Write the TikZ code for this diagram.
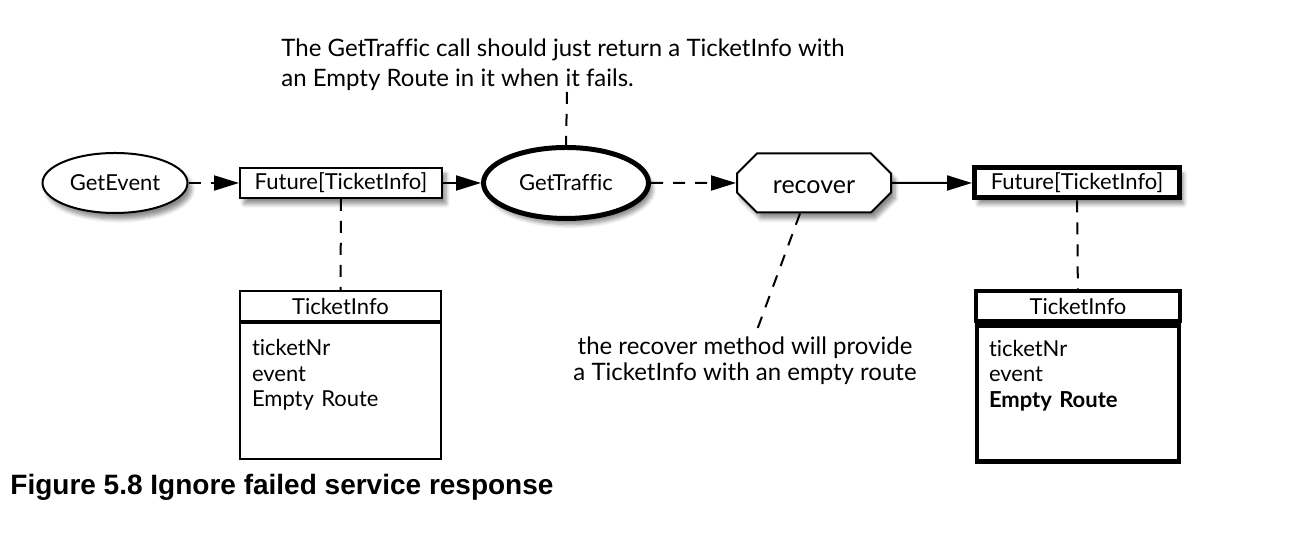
\documentclass[tikz,border=0pt]{standalone}
\usepackage{fontspec}
\setmainfont{Lato}[Ligatures=NoCommon]
\newfontfamily\capfont{Liberation Sans}
\usetikzlibrary{shapes.geometric,shapes.misc,arrows.meta,shadows.blur}

\begin{document}
\begin{tikzpicture}[x=0.5pt,y=0.5pt,
    font=\fontsize{11}{12.75}\selectfont,
    shade/.style={blur shadow={shadow blur steps=6,shadow xshift=2pt,shadow yshift=-3pt,shadow opacity=45}},
    proc/.style={ellipse,draw,fill=white,line width=1pt,inner sep=0pt,shade},
    fut/.style={rectangle,draw,fill=white,line width=1pt,inner sep=0pt,minimum height=15pt,shade},
    head/.style={rectangle,draw,line width=1pt,inner sep=0pt,minimum height=15pt},
    body/.style={rectangle,draw,line width=1pt,inner xsep=6pt,inner ysep=0pt,minimum height=68pt,align=left,anchor=north},
    flow/.style={line width=1pt,-{Triangle[length=12.5pt,width=7.5pt]}},
    link/.style={line width=1pt,dash pattern=on 6pt off 5pt}]
    \useasboundingbox (0,0) rectangle (1301,544);
    % main chain
    \node[proc,minimum width=72.5pt,minimum height=30pt] (ev) at (115,361) {GetEvent};
    \node[fut,minimum width=101pt] (fut1) at (341,361) {Future[TicketInfo]};
    \node[proc,line width=2.5pt,minimum width=82.5pt,minimum height=35.5pt] (traf) at (566,361) {GetTraffic};
    \node[chamfered rectangle,chamfered rectangle xsep=5pt,chamfered rectangle ysep=5pt,
          draw,fill=white,line width=1pt,inner sep=0pt,minimum width=77pt,minimum height=29.5pt,
          font=\fontsize{12.5}{14}\selectfont,text height=2ex,text depth=0pt,shade] (rec) at (814,361) {recover};
    \node[fut,line width=2.5pt,minimum width=102.5pt] (fut2) at (1077,361) {Future[TicketInfo]};
    \draw[flow,link] (ev) -- (fut1);
    \draw[flow] (fut1) -- (traf);
    \draw[flow,link] (traf) -- (rec);
    \draw[flow] (rec) -- (fut2);
    % ticket info boxes
    \node[head,minimum width=100.5pt] (info1) at (340.5,238) {TicketInfo};
    \node[body,text width=88.5pt] (info1b) at (info1.south) {ticketNr\\event\\Empty Route\\[5pt]\mbox{}};
    \node[head,line width=2.2pt,minimum width=102pt] (info2) at (1078,238) {TicketInfo};
    \node[body,line width=2.2pt,text width=89pt] (info2b) at (info2.south) {ticketNr\\event\\\textbf{Empty Route}\\[7pt]\mbox{}};
    \draw[link] (fut1) -- (info1);
    \draw[link] (fut2) -- (info2);
    % notes
    \node[anchor=north west,align=left,inner sep=0pt,font=\fontsize{12}{15}\selectfont] (note1) at (281,506)
        {The GetTraffic call should just return a TicketInfo with\\an Empty Route in it when it fails.};
    \coordinate (note1end) at (567,452);
    \draw[link] (note1end) -- (traf.north);
    \node[align=center,font=\fontsize{12}{13}\selectfont] (note2) at (745,183)
        {the recover method will provide\\a TicketInfo with an empty route};
    \draw[link] ([xshift=-7pt]rec.south) -- ([xshift=6pt]note2.north);
    % caption
    \node[anchor=base west,inner sep=0pt,font=\capfont\bfseries\fontsize{14}{16}\selectfont] (cap) at (10,49)
        {Figure 5.8 Ignore failed service response};
\end{tikzpicture}
\end{document}
